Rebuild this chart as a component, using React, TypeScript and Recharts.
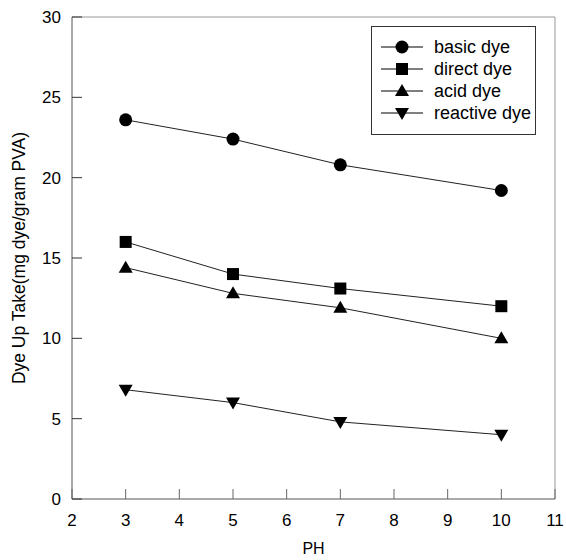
import React from 'react';
import { LineChart, Line, XAxis, YAxis, ReferenceLine, Label } from 'recharts';

const phValues = [3, 5, 7, 10];
const basicDye = [23.6, 22.4, 20.8, 19.2];
const directDye = [16.0, 14.0, 13.1, 12.0];
const acidDye = [14.4, 12.8, 11.9, 10.0];
const reactiveDye = [6.8, 6.0, 4.8, 4.0];

const xTicks = [2, 3, 4, 5, 6, 7, 8, 9, 10, 11];
const yTicks = [0, 5, 10, 15, 20, 25, 30];

const data = phValues.map((ph, i) => ({
  ph,
  basic: basicDye[i],
  direct: directDye[i],
  acid: acidDye[i],
  reactive: reactiveDye[i],
}));

const FONT = 'Arial, "Liberation Sans", sans-serif';
const INK = '#000';

type Shape = 'circle' | 'square' | 'triangle' | 'down';

function Marker({ cx, cy, shape }: { cx: number; cy: number; shape: Shape }) {
  if (cx == null || cy == null) return null;
  if (shape === 'circle') return <circle cx={cx} cy={cy} r={6.5} fill={INK} />;
  if (shape === 'square') return <rect x={cx - 6} y={cy - 6} width={12} height={12} fill={INK} />;
  if (shape === 'triangle')
    return <polygon points={`${cx},${cy - 7} ${cx - 7},${cy + 5} ${cx + 7},${cy + 5}`} fill={INK} />;
  return <polygon points={`${cx},${cy + 7} ${cx - 7},${cy - 5} ${cx + 7},${cy - 5}`} fill={INK} />;
}

const series: { key: string; name: string; shape: Shape }[] = [
  { key: 'basic', name: 'basic dye', shape: 'circle' },
  { key: 'direct', name: 'direct dye', shape: 'square' },
  { key: 'acid', name: 'acid dye', shape: 'triangle' },
  { key: 'reactive', name: 'reactive dye', shape: 'down' },
];

// ticks point inward, labels sit outside
function XTick(props: any) {
  const { x, y, payload } = props;
  const axisY = y - 8;
  return (
    <g>
      <line x1={x} y1={axisY} x2={x} y2={axisY - 10} stroke="#666" />
      <text x={x} y={axisY + 27} textAnchor="middle" fontSize={17} fontFamily={FONT} fill={INK}>
        {payload.value}
      </text>
    </g>
  );
}

function YTick(props: any) {
  const { x, y, payload } = props;
  const axisX = x + 10;
  return (
    <g>
      <line x1={axisX} y1={y} x2={axisX + 10} y2={y} stroke="#333" />
      <text x={axisX - 11} y={y + 6} textAnchor="end" fontSize={17} fontFamily={FONT} fill={INK}>
        {payload.value}
      </text>
    </g>
  );
}

function LegendBox() {
  return (
    <div
      style={{
        position: 'absolute',
        left: 371,
        top: 26,
        border: '1px solid #333',
        width: 165,
        height: 109,
        boxSizing: 'border-box',
        background: '#fff',
        padding: '9px 0 0 9px',
        fontFamily: FONT,
        fontSize: 18,
      }}
    >
      {series.map((s) => (
        <div key={s.key} style={{ display: 'flex', alignItems: 'center', height: 22 }}>
          <svg width={42} height={16} style={{ marginRight: 11 }}>
            <line x1={0} y1={8} x2={42} y2={8} stroke={INK} />
            <Marker cx={21} cy={8} shape={s.shape} />
          </svg>
          <span>{s.name}</span>
        </div>
      ))}
    </div>
  );
}

export default function App() {
  return (
    <div style={{ position: 'absolute', left: 0, top: 0, width: 566, height: 560, background: '#fff' }}>
      <LineChart width={566} height={560} data={data} margin={{ top: 17, right: 11, left: 0, bottom: 0 }}>
        <XAxis
          type="number"
          dataKey="ph"
          domain={[2, 11]}
          ticks={xTicks}
          interval={0}
          allowDataOverflow
          height={61}
          tickSize={0}
          tickMargin={8}
          tick={<XTick />}
          tickLine={false}
          axisLine={{ stroke: '#555' }}
        >
          <Label
            value="PH"
            position="insideBottom"
            offset={6}
            style={{ fontSize: 16, fontFamily: FONT, fill: INK }}
          />
        </XAxis>
        <YAxis
          type="number"
          domain={[0, 30]}
          ticks={yTicks}
          interval={0}
          width={72}
          tickSize={0}
          tickMargin={10}
          tick={<YTick />}
          tickLine={false}
          axisLine={{ stroke: '#555' }}
        >
          <Label
            content={(p: any) => {
              const vb = p.viewBox;
              const cx = vb.x + 19;
              const cy = vb.y + vb.height / 2;
              return (
                <text
                  x={cx}
                  y={cy}
                  transform={`rotate(-90, ${cx}, ${cy})`}
                  textAnchor="middle"
                  dominantBaseline="central"
                  fontSize={17.5}
                  fontFamily={FONT}
                  fill={INK}
                >
                  Dye Up Take(mg dye/gram PVA)
                </text>
              );
            }}
          />
        </YAxis>
        <ReferenceLine y={30} stroke="#999" />
        <ReferenceLine x={11} stroke="#999" />
        {series.map((s) => (
          <Line
            key={s.key}
            dataKey={s.key}
            name={s.name}
            type="linear"
            stroke="#222"
            strokeWidth={1}
            isAnimationActive={false}
            dot={(p: any) => <Marker key={`${s.key}-${p.index}`} cx={p.cx} cy={p.cy} shape={s.shape} />}
            activeDot={false}
          />
        ))}
      </LineChart>
      <LegendBox />
    </div>
  );
}
